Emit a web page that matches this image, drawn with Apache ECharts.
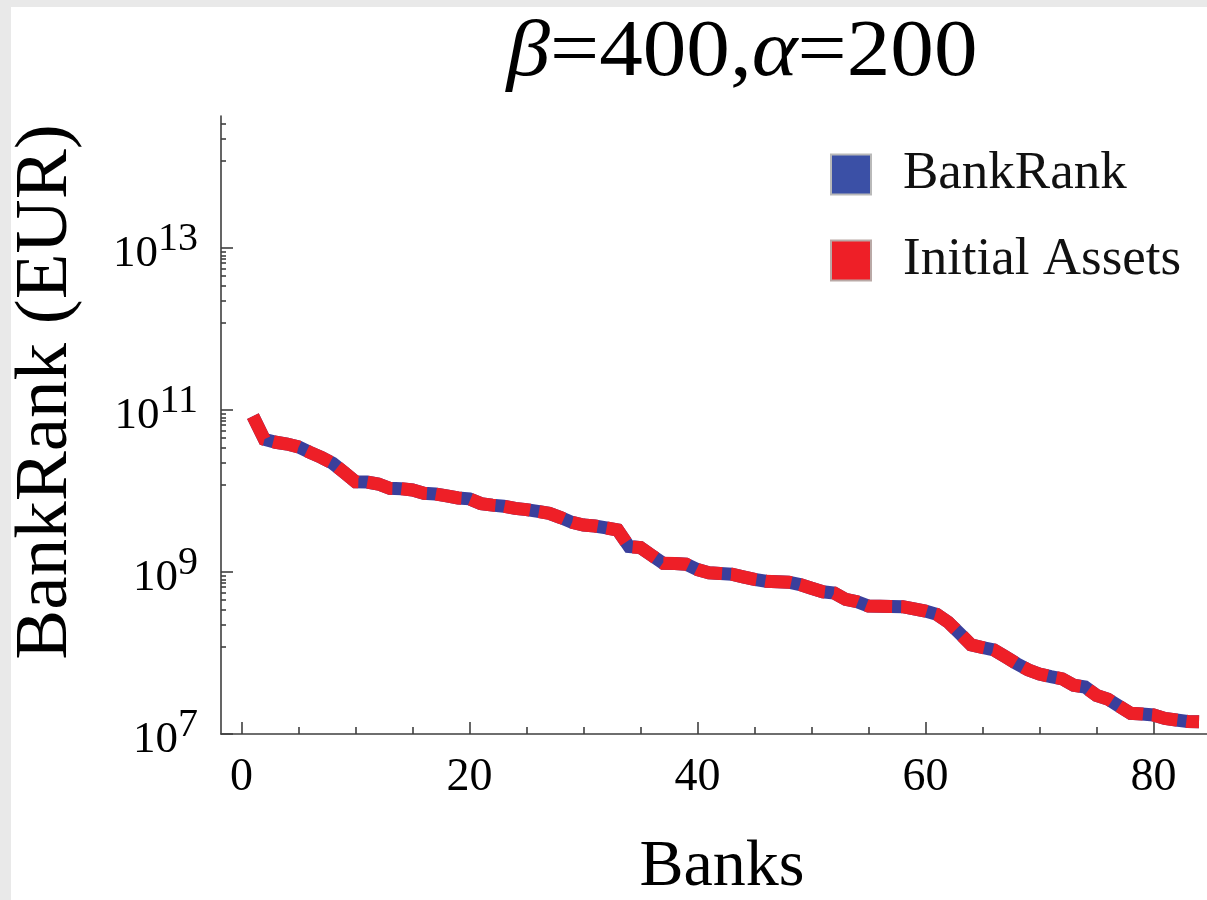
<!DOCTYPE html>
<html>
<head>
<meta charset="utf-8">
<script src="https://cdn.jsdelivr.net/npm/echarts@6/dist/echarts.min.js"></script>
<style>
html, body { margin: 0; padding: 0; background: #ffffff; }
#chart { width: 1207px; height: 900px; }
</style>
</head>
<body>
<div id="chart"></div>
<script>
// ---- data ----
const banks = [1,2,3,4,5,6,7,8,9,10,11,12,13,14,15,16,17,18,19,20,21,22,23,24,25,26,27,28,29,30,
  31,32,33,34,35,36,37,38,39,40,41,42,43,44,45,46,47,48,49,50,51,52,53,54,55,56,57,58,59,60,
  61,62,63,64,65,66,67,68,69,70,71,72,73,74,75,76,77,78,79,80,81,82,83,84];

const bankRank = [8.4e10,4.35e10,4.0e10,3.8e10,3.5e10,3.0e10,2.6e10,2.2e10,1.7e10,1.3e10,
  1.29e10,1.22e10,1.08e10,1.07e10,1.03e10,9.4e9,9.2e9,8.7e9,8.2e9,8.0e9,
  7.0e9,6.7e9,6.5e9,6.1e9,5.9e9,5.6e9,5.3e9,4.7e9,4.1e9,3.8e9,
  3.7e9,3.5e9,3.3e9,2.06e9,2.0e9,1.6e9,1.28e9,1.27e9,1.25e9,1.07e9,
  9.8e8,9.6e8,9.4e8,8.7e8,8.1e8,7.7e8,7.6e8,7.5e8,7.0e8,6.3e8,
  5.7e8,5.5e8,4.6e8,4.3e8,3.8e8,3.77e8,3.76e8,3.73e8,3.5e8,3.3e8,
  3.0e8,2.4e8,1.75e8,1.26e8,1.17e8,1.09e8,9.0e7,7.4e7,6.2e7,5.5e7,
  5.1e7,4.8e7,4.0e7,3.8e7,3.0e7,2.7e7,2.2e7,1.8e7,1.77e7,1.72e7,
  1.56e7,1.49e7,1.43e7,1.42e7];

const initialAssets = [8.4e10,4.35e10,4.0e10,3.8e10,3.5e10,3.0e10,2.6e10,2.2e10,1.7e10,1.3e10,
  1.29e10,1.22e10,1.08e10,1.07e10,1.03e10,9.4e9,9.2e9,8.7e9,8.2e9,8.0e9,
  7.0e9,6.7e9,6.5e9,6.1e9,5.9e9,5.6e9,5.3e9,4.7e9,4.1e9,3.8e9,
  3.7e9,3.5e9,3.3e9,2.06e9,2.0e9,1.6e9,1.28e9,1.27e9,1.25e9,1.07e9,
  9.8e8,9.6e8,9.4e8,8.7e8,8.1e8,7.7e8,7.6e8,7.5e8,7.0e8,6.3e8,
  5.7e8,5.5e8,4.6e8,4.3e8,3.8e8,3.77e8,3.76e8,3.73e8,3.5e8,3.3e8,
  3.0e8,2.4e8,1.75e8,1.26e8,1.17e8,1.09e8,9.0e7,7.4e7,6.2e7,5.5e7,
  5.1e7,4.8e7,4.0e7,3.8e7,3.0e7,2.7e7,2.2e7,1.8e7,1.77e7,1.72e7,
  1.56e7,1.49e7,1.43e7,1.42e7];

const seriesNames = ['BankRank', 'Initial Assets'];
const xTickLabels = [0, 20, 40, 60, 80];
const xMinorTicks = [5, 10, 15, 25, 30, 35, 45, 50, 55, 65, 70, 75];
const yTickLabels = [1e7, 1e9, 1e11, 1e13];
const yMinorTicks = [
  8.9e8, 8.1e8, 7.3e8, 6.6e8, 5.5e8, 4.5e8, 3.4e8, 2.25e8, 1.19e8,
  8.9e10, 8.1e10, 7.3e10, 6.6e10, 5.5e10, 4.5e10, 3.4e10, 2.25e10, 1.19e10,
  8.9e12, 8.1e12, 7.3e12, 6.6e12, 5.5e12, 4.5e12, 3.4e12, 2.25e12, 1.19e12,
  3.4e14, 2.25e14, 1.19e14
];
const titleText = '{i|β}{n|=400,}{i|α}{n|=200}';
const xName = 'Banks';
const yName = 'BankRank (EUR)';

// ---- chart ----
const SERIF = '"Liberation Serif", "DejaVu Serif", serif';
const X_MIN = -1.8, X_MAX = 84.7;
const Y_MIN = 1e7, Y_MAX = 4.27e14;
const AXIS_COLOR = '#3f3f3f';

const chart = echarts.init(document.getElementById('chart'), null, { renderer: 'canvas' });

const option = {
  animation: false,
  backgroundColor: '#ffffff',
  grid: {
    left: 221, right: 0, top: 116, bottom: 166,
    containLabel: false, outerBoundsMode: 'none'
  },
  legend: {
    orient: 'vertical',
    left: 830, top: 148, padding: 0,
    itemWidth: 40, itemHeight: 40, itemGap: 33,
    icon: 'rect',
    selectedMode: false,
    textStyle: {
      fontFamily: SERIF, fontSize: 53, color: '#111111',
      padding: [0, 0, 0, 27]
    },
    data: [
      { name: seriesNames[0], icon: 'rect',
        itemStyle: { color: '#3b50a6', borderColor: '#b9b9b9', borderWidth: 2, borderType: 'solid' } },
      { name: seriesNames[1], icon: 'rect',
        itemStyle: { color: '#ee1f27', borderColor: '#b9a9a6', borderWidth: 2, borderType: 'solid' } }
    ]
  },
  xAxis: [
    {
      type: 'value', position: 'bottom', min: X_MIN, max: X_MAX,
      splitLine: { show: false },
      axisLine: { show: true, onZero: false, lineStyle: { color: AXIS_COLOR, width: 1.6 } },
      axisTick: { show: true, inside: true, length: 12, customValues: xTickLabels,
                  lineStyle: { color: AXIS_COLOR, width: 1.6 } },
      axisLabel: { show: true, customValues: xTickLabels, margin: 21,
                   fontFamily: SERIF, fontSize: 46, color: '#000000' }
    },
    {
      type: 'value', position: 'bottom', min: X_MIN, max: X_MAX,
      splitLine: { show: false },
      axisLine: { show: false, onZero: false },
      axisTick: { show: true, inside: true, length: 7, customValues: xMinorTicks,
                  lineStyle: { color: AXIS_COLOR, width: 1.6 } },
      axisLabel: { show: false }
    }
  ],
  yAxis: [
    {
      type: 'log', logBase: 10, position: 'left', min: Y_MIN, max: Y_MAX,
      splitLine: { show: false },
      axisLine: { show: true, onZero: false, lineStyle: { color: AXIS_COLOR, width: 1.6 } },
      axisTick: { show: true, inside: true, length: 12, customValues: yTickLabels,
                  lineStyle: { color: AXIS_COLOR, width: 1.6 } },
      axisLabel: {
        show: true, customValues: yTickLabels, margin: 23,
        formatter: function (v) {
          const e = Math.round(Math.log10(v));
          return '{b|10}{s|' + e + '}';
        },
        rich: {
          b: { fontFamily: SERIF, fontSize: 45, color: '#000', lineHeight: 58, verticalAlign: 'bottom' },
          s: { fontFamily: SERIF, fontSize: 40, color: '#000', verticalAlign: 'top' }
        }
      }
    },
    {
      type: 'log', logBase: 10, position: 'left', min: Y_MIN, max: Y_MAX,
      splitLine: { show: false },
      axisLine: { show: false, onZero: false },
      axisTick: { show: true, inside: true, length: 5, customValues: yMinorTicks,
                  lineStyle: { color: AXIS_COLOR, width: 1.6 } },
      axisLabel: { show: false }
    }
  ],
  series: [
    {
      name: seriesNames[0], type: 'line', xAxisIndex: 0, yAxisIndex: 0,
      data: banks.map((b, i) => [b, bankRank[i]]),
      symbol: 'none', smooth: false, z: 2,
      color: '#3a3f9c',
      lineStyle: { color: '#3a3f9c', width: 13, type: 'solid', cap: 'butt', join: 'miter' }
    },
    {
      name: seriesNames[1], type: 'line', xAxisIndex: 0, yAxisIndex: 0,
      data: banks.map((b, i) => [b, initialAssets[i]]),
      symbol: 'none', smooth: false, z: 3,
      color: '#ee1f27',
      lineStyle: { color: '#ee1f27', width: 13, type: [26, 9], cap: 'butt', join: 'miter' }
    }
  ],
  graphic: [
    { type: 'rect', left: 0, top: 0, silent: true, z: -10,
      shape: { width: 11, height: 900 }, style: { fill: '#e9e9e9' } },
    { type: 'rect', left: 0, top: 0, silent: true, z: -10,
      shape: { width: 1207, height: 7 }, style: { fill: '#e9e9e9' } },
    { type: 'text', silent: true, x: 742, y: 54, scaleX: 1.09,
      style: {
        x: 0, y: 0, text: titleText, align: 'center', verticalAlign: 'middle',
        rich: {
          i: { fontFamily: SERIF, fontSize: 80, fontStyle: 'italic', fill: '#000' },
          n: { fontFamily: SERIF, fontSize: 80, fill: '#000' }
        }
      }
    },
    { type: 'text', silent: true,
      style: { x: 722, y: 868, text: xName, align: 'center', verticalAlign: 'middle',
               font: '66px ' + SERIF, fill: '#000' } },
    { type: 'text', silent: true, x: 46, y: 392, rotation: Math.PI / 2,
      style: { x: 0, y: 0, text: yName, align: 'center', verticalAlign: 'middle',
               font: '75px ' + SERIF, fill: '#000' } }
  ]
};

chart.setOption(option);
</script>
</body>
</html>
